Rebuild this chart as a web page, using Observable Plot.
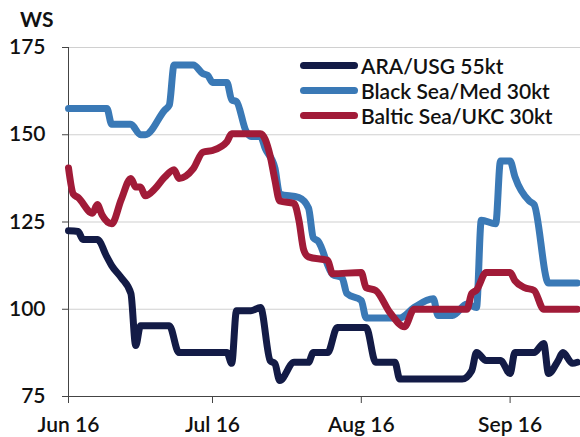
<!DOCTYPE html>
<html>
<head>
<meta charset="utf-8">
<script src="https://cdn.jsdelivr.net/npm/d3@7"></script>
<script src="https://cdn.jsdelivr.net/npm/@observablehq/plot@0.6"></script>
<style>
  html, body { margin: 0; padding: 0; background: #fff; }
  #wrap { position: relative; width: 580px; height: 437px; font-family: Lato, "DejaVu Sans", sans-serif; }
  #unit { position: absolute; left: 20px; top: 6px; font-size: 21px; font-weight: 700; color: #111; }
  #legend { position: absolute; left: 300px; top: 53px; }
  .row { display: flex; align-items: center; height: 25px; }
  .sw { width: 58px; height: 7px; border-radius: 4px; margin-right: 3px; }
  .lab { font-size: 21px; font-weight: 600; color: #111; white-space: nowrap; }
</style>
</head>
<body>
<div id="wrap">
  <div id="chart"></div>
  <div id="unit">WS</div>
  <div id="legend"></div>
</div>
<script>
const seriesNames = ["ARA/USG 55kt", "Black Sea/Med 30kt", "Baltic Sea/UKC 30kt"];
const seriesColors = ["#131b46", "#3a79b6", "#a11b38"];
const yTicks = [75, 100, 125, 150, 175];
const xTicks = ["2016-06-01", "2016-07-01", "2016-08-01", "2016-09-01"];
const xDomain = ["2016-06-01", "2016-09-15T16:00"];

const araUsg = [
  ["2016-06-01", 122.5], ["2016-06-03", 122.3], ["2016-06-04", 120], ["2016-06-07", 120],
  ["2016-06-09", 115], ["2016-06-10", 112.5], ["2016-06-12", 109], ["2016-06-14", 104.5],
  ["2016-06-15", 89.6], ["2016-06-16", 95.3], ["2016-06-22", 95.3], ["2016-06-24", 87.6],
  ["2016-07-04", 87.6], ["2016-07-05", 84.5], ["2016-07-06", 99.6], ["2016-07-09", 99.6],
  ["2016-07-11", 100.5], ["2016-07-13", 85.3], ["2016-07-14", 84.4], ["2016-07-15", 79.6],
  ["2016-07-18", 84.8], ["2016-07-21", 84.8], ["2016-07-22", 87.6], ["2016-07-25", 87.6],
  ["2016-07-27", 94.8], ["2016-08-02", 94.8], ["2016-08-04", 84.8], ["2016-08-08", 84.8],
  ["2016-08-09", 80], ["2016-08-22", 80], ["2016-08-24", 82.4], ["2016-08-25", 87.6],
  ["2016-08-27", 85.3], ["2016-08-30", 85.3], ["2016-09-01", 81.6], ["2016-09-02", 87.6],
  ["2016-09-06", 87.6], ["2016-09-08", 90.2], ["2016-09-09", 81.6], ["2016-09-11", 85.3],
  ["2016-09-12", 87.6], ["2016-09-14", 84.5], ["2016-09-15", 84.8]
];

const blackSeaMed = [
  ["2016-06-01", 157.5], ["2016-06-09", 157.5], ["2016-06-10", 153], ["2016-06-14", 153],
  ["2016-06-16", 150], ["2016-06-17", 150], ["2016-06-21", 157], ["2016-06-22", 158.5],
  ["2016-06-23", 170], ["2016-06-27", 170], ["2016-06-29", 167.5], ["2016-06-30", 167],
  ["2016-07-01", 165], ["2016-07-04", 165], ["2016-07-05", 160], ["2016-07-06", 159.5],
  ["2016-07-08", 151], ["2016-07-09", 149.5], ["2016-07-11", 149.5], ["2016-07-12", 146],
  ["2016-07-14", 140.5], ["2016-07-15", 133], ["2016-07-19", 132], ["2016-07-21", 129],
  ["2016-07-22", 120.5], ["2016-07-23", 119.5], ["2016-07-26", 110], ["2016-07-28", 109],
  ["2016-07-29", 104.5], ["2016-08-01", 102.5], ["2016-08-02", 97.5], ["2016-08-09", 97.5],
  ["2016-08-12", 100.5], ["2016-08-16", 103], ["2016-08-17", 98.2], ["2016-08-20", 98.2],
  ["2016-08-23", 101.5], ["2016-08-25", 100.5], ["2016-08-26", 125.5], ["2016-08-29", 124.5],
  ["2016-08-30", 142.5], ["2016-09-01", 142.5], ["2016-09-02", 138], ["2016-09-05", 131],
  ["2016-09-06", 130], ["2016-09-09", 107.5], ["2016-09-15", 107.5]
];

const balticUkc = [
  ["2016-06-01", 140.5], ["2016-06-02", 133], ["2016-06-03", 132], ["2016-06-06", 127.5],
  ["2016-06-07", 130], ["2016-06-08", 127], ["2016-06-10", 124.5], ["2016-06-12", 131.5],
  ["2016-06-14", 137.5], ["2016-06-15", 135], ["2016-06-16", 135], ["2016-06-17", 132.5],
  ["2016-06-19", 134.5], ["2016-06-21", 137.8], ["2016-06-23", 140], ["2016-06-24", 137.5],
  ["2016-06-27", 140.3], ["2016-06-29", 145], ["2016-07-01", 145.5], ["2016-07-04", 148],
  ["2016-07-05", 150.3], ["2016-07-11", 150.3], ["2016-07-13", 144], ["2016-07-14", 137],
  ["2016-07-15", 131], ["2016-07-18", 130.3], ["2016-07-19", 125.5], ["2016-07-20", 117],
  ["2016-07-21", 115], ["2016-07-25", 114], ["2016-07-26", 110.2], ["2016-08-01", 110.5],
  ["2016-08-02", 106.2], ["2016-08-04", 105.4], ["2016-08-07", 99], ["2016-08-10", 95],
  ["2016-08-12", 100], ["2016-08-23", 100], ["2016-08-24", 104.5], ["2016-08-25", 105.5],
  ["2016-08-27", 110.5], ["2016-09-01", 110.5], ["2016-09-02", 108.2], ["2016-09-04", 106.2],
  ["2016-09-06", 105.4], ["2016-09-08", 100], ["2016-09-15", 100]
];

const parse = s => new Date(s.length > 10 ? s + "Z" : s + "T00:00Z");
const allSeries = [araUsg, blackSeaMed, balticUkc];
const rows = allSeries.flatMap((arr, i) =>
  arr.map(([d, v]) => ({ date: parse(d), value: v, series: seriesNames[i] })));

const chart = Plot.plot({
  width: 580,
  height: 437,
  marginTop: 47,
  marginBottom: 41,
  marginLeft: 68,
  marginRight: 0,
  style: { fontFamily: "Lato, sans-serif", fontSize: "21px", color: "#111", background: "#fff" },
  x: { type: "utc", domain: xDomain.map(parse) },
  y: { domain: [75, 175] },
  color: { domain: seriesNames, range: seriesColors },
  marks: [
    Plot.gridY(yTicks.slice(1), { stroke: "#d0d0d0", strokeOpacity: 1, strokeWidth: 1.2 }),
    Plot.axisY(yTicks, { tickSize: 6, tickPadding: 17, label: null, stroke: "#444", fontWeight: 600 }),
    Plot.axisX(xTicks.map(parse), { tickSize: 7, tickPadding: 14, label: null, stroke: "#444",
      tickFormat: d3.utcFormat("%b %y"), fontWeight: 600 }),
    Plot.ruleY([yTicks[0]], { stroke: "#444" }),
    Plot.ruleX([parse(xDomain[0])], { stroke: "#444" }),
    Plot.line(rows, { x: "date", y: "value", z: "series", stroke: "series", strokeWidth: 7,
      curve: "monotone-x", strokeLinejoin: "round", strokeLinecap: "round" })
  ]
});
document.getElementById("chart").appendChild(chart);

const legend = document.getElementById("legend");
seriesNames.forEach((name, i) => {
  const row = document.createElement("div");
  row.className = "row";
  const sw = document.createElement("div");
  sw.className = "sw";
  sw.style.background = seriesColors[i];
  const lab = document.createElement("div");
  lab.className = "lab";
  lab.textContent = name;
  row.appendChild(sw);
  row.appendChild(lab);
  legend.appendChild(row);
});
</script>
</body>
</html>
